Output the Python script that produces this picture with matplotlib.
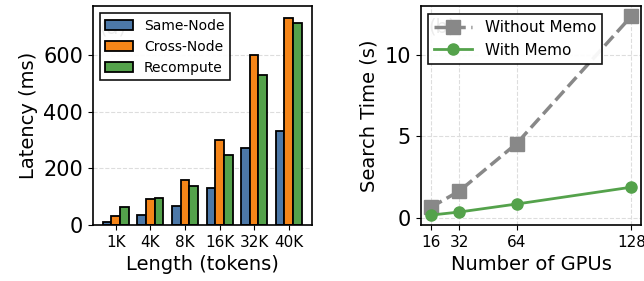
import numpy as np
import matplotlib
matplotlib.use("Agg")
import matplotlib.pyplot as plt

lengths = ["1K", "4K", "8K", "16K", "32K", "40K"]
same_node = [12, 35, 68, 132, 273, 331]
cross_node = [32, 91, 159, 302, 600, 733]
recompute = [64, 94, 139, 248, 531, 714]

gpus = [16, 32, 64, 128]
without_memo = [0.65, 1.65, 4.56, 12.35]
with_memo = [0.18, 0.37, 0.86, 1.89]

blue = "#4c78a8"
orange = "#f58518"
green = "#54a24b"
gray = "#888888"

fig = plt.figure(figsize=(6.44, 2.81), dpi=100)
ax1 = fig.add_axes([0.144, 0.199, 0.340, 0.779])
ax2 = fig.add_axes([0.653, 0.199, 0.343, 0.779])

x = np.arange(len(lengths))
w = 0.25
ax1.bar(x - w, same_node, w, color=blue, edgecolor="black", linewidth=1.3, label="Same-Node")
ax1.bar(x, cross_node, w, color=orange, edgecolor="black", linewidth=1.3, label="Cross-Node")
ax1.bar(x + w, recompute, w, color=green, edgecolor="black", linewidth=1.3, label="Recompute")
ax1.set_xticks(x)
ax1.set_xticklabels(lengths, fontsize=11)
ax1.set_yticks([0, 200, 400, 600])
ax1.tick_params(axis="y", labelsize=15)
ax1.set_ylim(0, 773)
ax1.set_xlabel("Length (tokens)", fontsize=14)
ax1.set_ylabel("Latency (ms)", fontsize=14)
ax1.yaxis.grid(True, linestyle="--", color="#dddddd", linewidth=0.8)
ax1.set_axisbelow(True)
ax1.text(0.09, 0.90, "(a)", transform=ax1.transAxes, ha="center", va="center", fontsize=14)
leg1 = ax1.legend(loc="upper left", fontsize=10, fancybox=False, edgecolor="black",
                  framealpha=0.93, handlelength=2.0)
leg1.get_frame().set_linewidth(1.2)

ax2.plot(gpus, without_memo, "--s", color=gray, linewidth=2.5, markersize=10, label="Without Memo")
ax2.plot(gpus, with_memo, "-o", color=green, linewidth=2, markersize=8, label="With Memo")
ax2.set_xticks(gpus)
ax2.set_xticklabels([str(g) for g in gpus], fontsize=11)
ax2.set_yticks([0, 5, 10])
ax2.tick_params(axis="y", labelsize=15)
ax2.set_xlabel("Number of GPUs", fontsize=14)
ax2.set_ylabel("Search Time (s)", fontsize=14)
ax2.grid(True, linestyle="--", color="#dddddd", linewidth=0.8)
ax2.text(0.096, 0.904, "(b)", transform=ax2.transAxes, ha="center", va="center", fontsize=14)
leg2 = ax2.legend(loc="upper left", fontsize=11, fancybox=False, edgecolor="black",
                  framealpha=0.93, handlelength=2.5)
leg2.get_frame().set_linewidth(1.2)

for ax in (ax1, ax2):
    for s in ax.spines.values():
        s.set_linewidth(1.2)

fig.savefig("out.png", dpi=100)
